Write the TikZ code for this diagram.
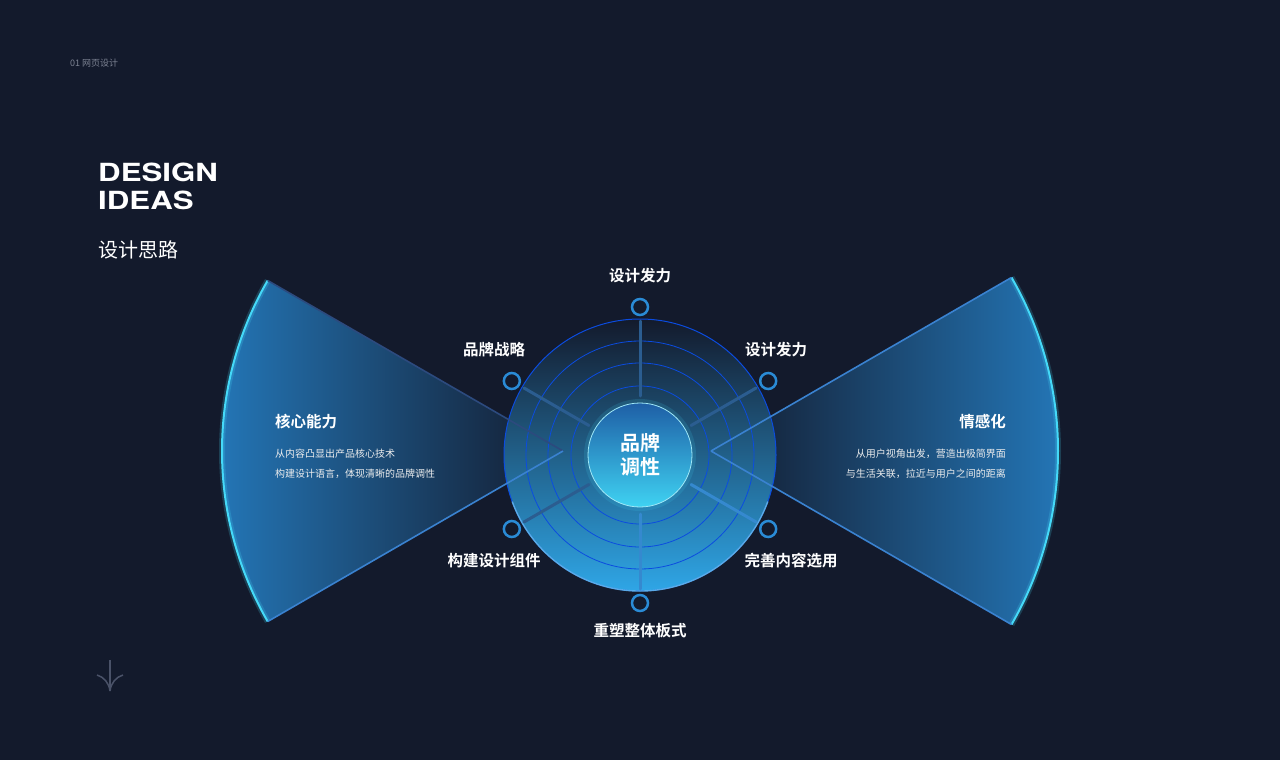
\documentclass[tikz,border=0pt]{standalone}
\usepackage{fontspec}
\setmainfont{TeX Gyre Heros}
\newfontfamily\cjk{Noto Sans CJK SC}[BoldFont={Noto Sans CJK SC Bold}]
\usetikzlibrary{positioning}

\definecolor{bgcol}{HTML}{131A2C}
\definecolor{fanblue}{HTML}{2479BB}
\definecolor{edgecyan}{HTML}{45D9F8}
\definecolor{edgecol}{HTML}{3A82D0}
\definecolor{edgedim}{HTML}{2C4A7E}
\definecolor{ringcol}{HTML}{0B4CE0}
\definecolor{diskcol}{HTML}{2FA6E6}
\definecolor{spokecol}{HTML}{2B5D90}
\definecolor{spokelow}{HTML}{3589CF}
\definecolor{dotcol}{HTML}{2A8BD6}
\definecolor{coretop}{HTML}{1E5FA6}
\definecolor{corebot}{HTML}{3FD2F2}
\definecolor{greytext}{HTML}{7D8393}
\definecolor{arrowcol}{HTML}{4A5268}

\begin{document}
\begin{tikzpicture}[x=1pt,y=-1pt,
  lbl/.style={text=white,inner sep=0pt,font=\cjk\bfseries\fontsize{15.5pt}{18pt}\selectfont},
  small/.style={text=white!92!bgcol,inner sep=0pt,font=\cjk\fontsize{10pt}{12pt}\selectfont},
  ring/.style={draw=ringcol,line width=0.8pt},
  spoke/.style={line width=3pt,line cap=round},
  dot/.style={circle,draw=dotcol,line width=2.5pt,fill=bgcol,minimum size=16pt,inner sep=0pt},
  fanedge/.style={line width=1.6pt},
  wide/.style={text=white,inner sep=0pt,anchor=base west,font=\bfseries\fontsize{25pt}{30pt}\selectfont}]
\useasboundingbox[fill=bgcol] (0,0) rectangle (1280,760);

% heading
\node[anchor=west,inner sep=0pt,text=greytext,font=\cjk\fontsize{9pt}{10pt}\selectfont] (page) at (70,63) {01 网页设计};
\node[wide] (design) at (98,181) {\scalebox{1.25}[1]{DESIGN}};
\node[wide] (ideas) at (98,209) {\scalebox{1.25}[1]{IDEAS}};
\node[anchor=west,inner sep=0pt,text=white,font=\cjk\fontsize{20pt}{22pt}\selectfont] (sub) at (98,250) {设计思路};

% fans
\coordinate (la) at (563,451);
\coordinate (ra) at (711,451);
\shade[left color=fanblue,right color=bgcol] (la) -- ++(150:341) coordinate (lb)
  arc[start angle=150,end angle=210,radius=341] coordinate (lt) -- cycle;
\shade[left color=bgcol,right color=fanblue] (ra) -- ++(-30:347) coordinate (rt)
  arc[start angle=-30,end angle=30,radius=347] coordinate (rb) -- cycle;
\draw[edgecyan,line width=6pt,opacity=0.2] (lb) arc[start angle=150,end angle=210,radius=341];
\draw[edgecyan,line width=2pt] (lb) arc[start angle=150,end angle=210,radius=341];
\draw[edgecyan,line width=6pt,opacity=0.2] (rt) arc[start angle=-30,end angle=30,radius=347];
\draw[edgecyan,line width=2pt] (rt) arc[start angle=-30,end angle=30,radius=347];

% rings
\shade[top color=bgcol,middle color=bgcol!88!diskcol,bottom color=diskcol] (640,455) circle[radius=136];
\foreach \r in {69,92,114} \draw[ring] (640,455) circle[radius=\r];
\draw[ring,line width=1pt] (640,455) circle[radius=136];
\draw[diskcol!70!white,line width=1.4pt,opacity=0.8] (640,455) ++(20:136) arc[start angle=20,end angle=160,radius=136];

\draw[fanedge,edgedim] (lt) -- (la);
\draw[fanedge,edgecol] (la) -- (lb);
\draw[fanedge,edgecol] (rt) -- (ra);
\draw[fanedge,edgecol] (ra) -- (rb);

% spokes and dots
\foreach \a/\n in {270/t,330/tr,210/tl,150/bl,30/br,90/b} {
  \coordinate (si\n) at ([shift={(640,455)}]\a:59);
  \coordinate (so\n) at ([shift={(640,455)}]\a:134);
  \node[dot] (m\n) at ([shift={(640,455)}]\a:148) {};
}
\foreach \n/\c in {t/spokecol,tr/spokecol,tl/spokecol,bl/spokecol,br/spokelow,b/spokelow}
  \draw[spoke,\c] (si\n) -- (so\n);

\draw[corebot,line width=6pt,opacity=0.15] (640,455) circle[radius=53];
\node[circle,minimum size=104pt,inner sep=0pt,top color=coretop,bottom color=corebot,
  draw=corebot!50!white,line width=0.8pt,align=center,text=white,
  font=\cjk\bfseries\fontsize{20pt}{24pt}\selectfont] (core) at (640,455) {品牌\\调性};

% labels
\node[lbl] (lt1) at (640,276) {设计发力};
\node[lbl] (ltl) at (494,350) {品牌战略};
\node[lbl] (ltr) at (776,350) {设计发力};
\node[lbl] (lbl1) at (494,561) {构建设计组件};
\node[lbl] (lbr) at (791,561) {完善内容选用};
\node[lbl] (lb1) at (640,631) {重塑整体板式};

% side texts
\node[lbl,anchor=west] (core1) at (275,422) {核心能力};
\node[small,anchor=west] (core1a) at (275,454) {从内容凸显出产品核心技术};
\node[small,anchor=west] (core1b) at (275,474) {构建设计语言，体现清晰的品牌调性};
\node[lbl,anchor=east] (emo) at (1006,422) {情感化};
\node[small,anchor=east] (emoa) at (1006,454) {从用户视角出发，营造出极简界面};
\node[small,anchor=east] (emob) at (1006,474) {与生活关联，拉近与用户之间的距离};

% scroll arrow
\coordinate (aw) at (110,660);
\coordinate (ah) at (110,691);
\draw[arrowcol,line width=1.5pt] (aw) -- (ah);
\draw[arrowcol,line width=1.5pt] (97,675) .. controls (104,677) and (109,683) .. (ah);
\draw[arrowcol,line width=1.5pt] (123,675) .. controls (116,677) and (111,683) .. (ah);
\end{tikzpicture}
\end{document}
